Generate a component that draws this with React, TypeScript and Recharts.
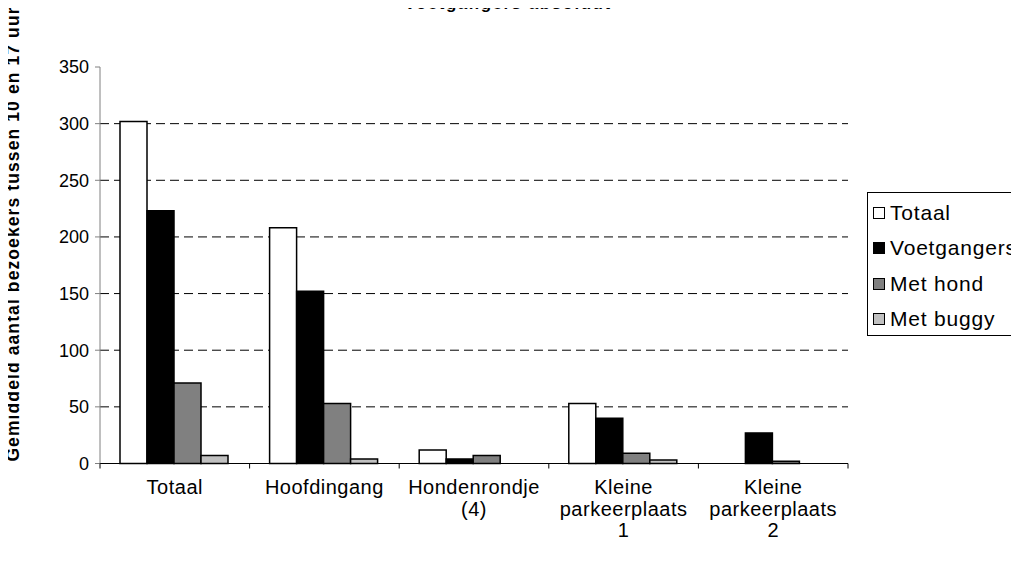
import React from 'react';
import { BarChart, Bar, XAxis, YAxis, CartesianGrid } from 'recharts';

const categories = ['Totaal', 'Hoofdingang', 'Hondenrondje\n(4)', 'Kleine\nparkeerplaats\n1', 'Kleine\nparkeerplaats\n2'];
const totaal = [302, 208, 12, 53, 0];
const voetgangers = [223, 152, 4, 40, 27];
const metHond = [71, 53, 7, 9, 2];
const metBuggy = [7, 4, 0, 3, 0];
const yTicks = [0, 50, 100, 150, 200, 250, 300, 350];
const gridValues = [50, 100, 150, 200, 250, 300];

const seriesNames = ['Totaal', 'Voetgangers', 'Met hond', 'Met buggy'];
const seriesColors = ['#ffffff', '#000000', '#808080', '#c0c0c0'];

const data = categories.map((name, i) => ({
  name,
  totaal: totaal[i],
  voetgangers: voetgangers[i],
  metHond: metHond[i],
  metBuggy: metBuggy[i],
}));
const keys = ['totaal', 'voetgangers', 'metHond', 'metBuggy'];

const W = 1019;
const H = 562;
const FONT = '"Liberation Sans", Arial, sans-serif';
const PLOT_LEFT = 100;
const PLOT_RIGHT = 848;
const PLOT_TOP = 67;
const PLOT_BOTTOM = 463.5;
const BAND = (PLOT_RIGHT - PLOT_LEFT) / categories.length;

// category label split over lines, plus tick marks on the band edges
const XTick = (props: any) => {
  const { x, payload, index } = props;
  const lines = String(payload.value).split('\n');
  const left = x - BAND / 2;
  return (
    <g>
      <line x1={left} x2={left} y1={PLOT_BOTTOM} y2={PLOT_BOTTOM + 5} stroke="#000" />
      {index === categories.length - 1 && (
        <line x1={left + BAND} x2={left + BAND} y1={PLOT_BOTTOM} y2={PLOT_BOTTOM + 5} stroke="#000" />
      )}
      <text
        x={x}
        y={PLOT_BOTTOM + 30.5}
        textAnchor="middle"
        fontSize={20}
        letterSpacing={0.5}
        fontFamily={FONT}
        fill="#000"
      >
        {lines.map((l, i) => (
          <tspan key={i} x={x} dy={i === 0 ? 0 : 21.5}>{l}</tspan>
        ))}
      </text>
    </g>
  );
};

const LegendBox = () => (
  <div
    style={{
      position: 'absolute',
      left: 867,
      top: 192,
      width: 200,
      height: 144,
      border: '1px solid #000',
      background: '#fff',
      boxSizing: 'border-box',
      paddingTop: 2,
      fontFamily: FONT,
      fontSize: 21,
      letterSpacing: 0.8,
    }}
  >
    {seriesNames.map((n, i) => (
      <div key={n} style={{ display: 'flex', alignItems: 'center', height: 35.5 }}>
        <span
          style={{
            display: 'inline-block',
            width: 10,
            height: 10,
            marginLeft: 5,
            marginRight: 5,
            border: '1px solid #000',
            background: seriesColors[i],
          }}
        />
        <span>{n}</span>
      </div>
    ))}
  </div>
);

export default function App() {
  return (
    <div style={{ position: 'relative', left: -8, top: -8, width: W, height: H, overflow: 'hidden', background: '#fff' }}>
      <BarChart
        width={W}
        height={H}
        data={data}
        margin={{ top: PLOT_TOP, right: W - PLOT_RIGHT, left: 0, bottom: 0 }}
        barCategoryGap={20}
        barGap={0}
      >
        <CartesianGrid
          vertical={false}
          horizontalValues={gridValues}
          stroke="#000"
          strokeDasharray="9 5"
        />
        <XAxis
          dataKey="name"
          height={H - PLOT_BOTTOM}
          axisLine={{ stroke: '#000' }}
          tickLine={false}
          tick={<XTick />}
          interval={0}
        />
        <YAxis
          width={PLOT_LEFT}
          domain={[0, 350]}
          ticks={yTicks}
          axisLine={{ stroke: '#808080' }}
          tickLine={{ stroke: '#808080' }}
          tickSize={5}
          tickMargin={6}
          tick={{ fontSize: 18, fontFamily: FONT, fill: '#000' }}
        />
        {keys.map((k, i) => (
          <Bar
            key={k}
            dataKey={k}
            name={seriesNames[i]}
            fill={seriesColors[i]}
            stroke="#000"
            strokeWidth={1.5}
            isAnimationActive={false}
          />
        ))}
      </BarChart>
      <LegendBox />
      <svg width={W} height={H} style={{ position: 'absolute', left: 0, top: 0, pointerEvents: 'none' }}>
        <text
          x={508}
          y={9}
          textAnchor="middle"
          fontSize={17}
          letterSpacing={1.5}
          fontWeight="bold"
          fontFamily={FONT}
          fill="#000"
        >
          Voetgangers absoluut
        </text>
        <text
          transform="translate(19, 234) rotate(-90)"
          textAnchor="middle"
          fontSize={17.5}
          letterSpacing={1.1}
          fontWeight="bold"
          fontFamily={FONT}
          fill="#000"
        >
          Gemiddeld aantal bezoekers tussen 10 en 17 uur
        </text>
      </svg>
    </div>
  );
}
